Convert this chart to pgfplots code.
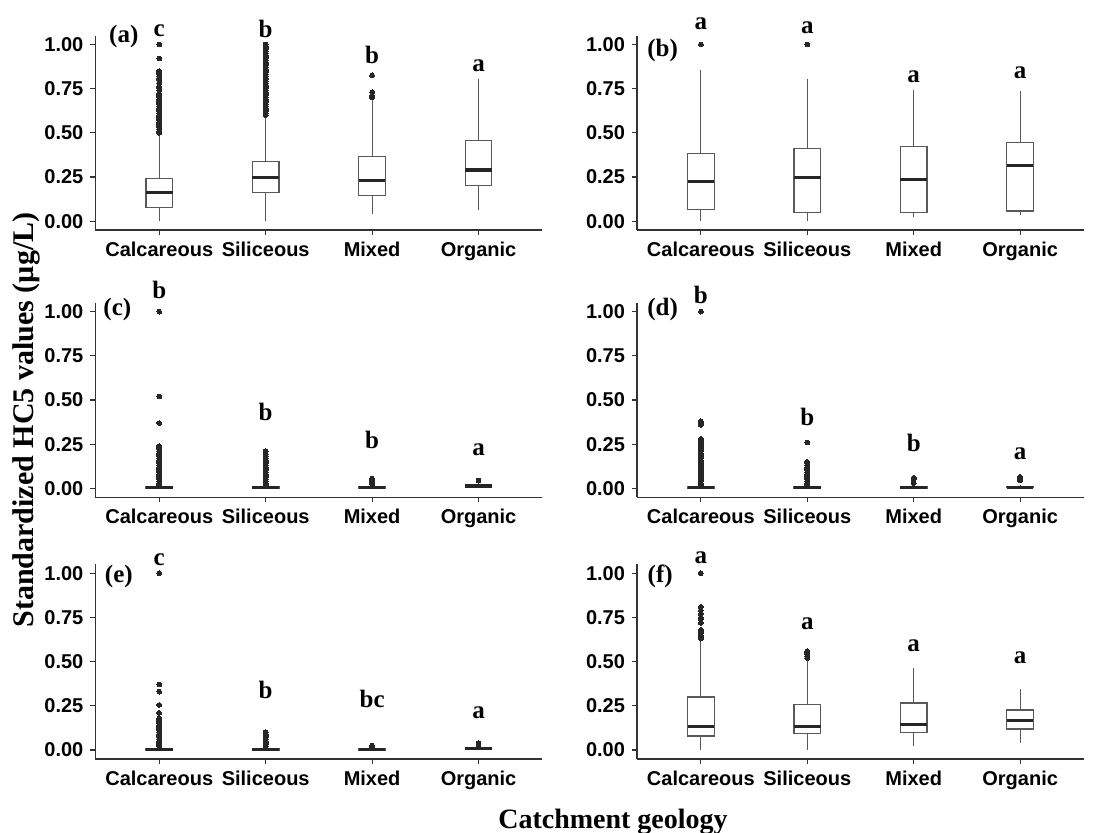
\documentclass[border=0pt]{standalone}
\usepackage{fontspec}
\setmainfont{Liberation Serif}
\newfontfamily\sansf{Liberation Sans}
\usepackage{pgfplots}
\pgfplotsset{compat=1.18}
\usepgfplotslibrary{statistics}

\newcommand{\tickfont}{\fontsize{10}{12}\selectfont\sansf\bfseries}
\newcommand{\letfont}{\fontsize{12.5}{14}\selectfont\bfseries}

\pgfplotsset{
  panel/.style={
    scale only axis, width=223.5pt, height=97.2pt,
    anchor=south west,
    xmin=0.4, xmax=4.6, ymin=-0.05, ymax=1.05,
    axis lines=left,
    axis line style={-, draw=black!80, line width=0.7pt},
    xtick={1,2,3,4},
    xticklabels={Calcareous,Siliceous,Mixed,Organic},
    ytick={0,0.25,0.5,0.75,1},
    yticklabel style={/pgf/number format/.cd, fixed, fixed zerofill, precision=2, assume math mode=true},
    ticklabel style={font=\tickfont, text=black},
    tick align=outside,
    major tick length=2.5pt,
    tick style={draw=black!80, line width=0.6pt},
    clip=false,
    boxplot/draw direction=y,
  },
  bxstyle/.style={draw=black!65, line width=0.6pt, fill=white, mark=*, mark size=1.2pt,
    mark options={fill=black!85, draw=black!85, line width=0pt}},
}

% draw position, lw, q1, median, q3, uw, outlier table
\newcommand{\bx}[7]{%
  \addplot[bxstyle, boxplot prepared={draw position=#1, lower whisker=#2, lower quartile=#3,
    median=#4, upper quartile=#5, upper whisker=#6, box extend=0.25, whisker extend=0,
    every median/.style={draw=black!85, line width=1.6pt}}]
    table[row sep=\\, y index=0] {#7};}
\newcommand{\bxn}[6]{%
  \addplot[bxstyle, boxplot prepared={draw position=#1, lower whisker=#2, lower quartile=#3,
    median=#4, upper quartile=#5, upper whisker=#6, box extend=0.25, whisker extend=0,
    every median/.style={draw=black!85, line width=1.6pt}}]
    coordinates {};}
\newcommand{\lt}[3]{\node[font=\letfont] at (axis cs:#1,#2) {#3};}

\begin{document}
\begin{tikzpicture}
\useasboundingbox (0,0) rectangle (554pt,416pt);

% (a)
\begin{axis}[panel, at={(47.7pt,301pt)}]
\bx{1}{0}{0.077}{0.16}{0.241}{0.495}{v\\0.50\\0.51\\0.52\\0.53\\0.54\\0.55\\0.56\\0.57\\0.58\\0.59\\0.60\\0.61\\0.62\\0.63\\0.64\\0.65\\0.66\\0.67\\0.68\\0.69\\0.70\\0.71\\0.72\\0.74\\0.75\\0.76\\0.78\\0.80\\0.81\\0.82\\0.83\\0.84\\0.85\\0.92\\1.00\\}
\bx{2}{0}{0.16}{0.247}{0.337}{0.59}{v\\0.60\\0.61\\0.62\\0.63\\0.64\\0.65\\0.66\\0.67\\0.68\\0.69\\0.70\\0.71\\0.72\\0.73\\0.74\\0.75\\0.76\\0.77\\0.78\\0.79\\0.80\\0.81\\0.82\\0.83\\0.84\\0.85\\0.86\\0.87\\0.88\\0.89\\0.90\\0.91\\0.92\\0.93\\0.94\\0.95\\0.96\\0.97\\0.98\\0.99\\1.00\\}
\bx{3}{0.043}{0.145}{0.232}{0.365}{0.684}{v\\0.70\\0.71\\0.73\\0.825\\}
\bxn{4}{0.062}{0.203}{0.29}{0.456}{0.806}
\lt{0.667}{1.043}{(a)}
\lt{1}{1.08}{c}
\lt{2}{1.09}{b}
\lt{3}{0.94}{b}
\lt{4}{0.88}{a}
\end{axis}

% (b)
\begin{axis}[panel, at={(318.5pt,301pt)}]
\bx{1}{0}{0.066}{0.224}{0.382}{0.853}{v\\1.00\\}
\bx{2}{0}{0.047}{0.247}{0.41}{0.806}{v\\1.00\\}
\bxn{3}{0.024}{0.047}{0.237}{0.424}{0.74}
\bxn{4}{0.034}{0.058}{0.313}{0.444}{0.734}
\lt{0.641}{0.966}{(b)}
\lt{1}{1.117}{a}
\lt{2}{1.094}{a}
\lt{3}{0.815}{a}
\lt{4}{0.838}{a}
\end{axis}

% (c)
\begin{axis}[panel, at={(47.7pt,167.4pt)}]
\bx{1}{0}{0}{0.004}{0.01}{0.018}{v\\0.02\\0.03\\0.04\\0.05\\0.06\\0.07\\0.08\\0.09\\0.10\\0.11\\0.12\\0.13\\0.14\\0.15\\0.16\\0.17\\0.18\\0.19\\0.20\\0.21\\0.22\\0.23\\0.24\\0.37\\0.52\\1.00\\}
\bx{2}{0}{0}{0.004}{0.01}{0.018}{v\\0.02\\0.03\\0.04\\0.05\\0.06\\0.07\\0.08\\0.09\\0.10\\0.11\\0.12\\0.13\\0.14\\0.15\\0.16\\0.17\\0.18\\0.19\\0.21\\}
\bx{3}{0}{0.002}{0.006}{0.012}{0.02}{v\\0.025\\0.03\\0.035\\0.04\\0.045\\0.05\\0.055\\}
\bx{4}{0.005}{0.008}{0.013}{0.02}{0.03}{v\\0.045\\}
\lt{0.606}{1.015}{(c)}
\lt{1}{1.12}{b}
\lt{2}{0.434}{b}
\lt{3}{0.274}{b}
\lt{4}{0.217}{a}
\end{axis}

% (d)
\begin{axis}[panel, at={(318.5pt,167.4pt)}]
\bx{1}{0}{0}{0.004}{0.01}{0.018}{v\\0.02\\0.03\\0.04\\0.05\\0.06\\0.07\\0.08\\0.09\\0.10\\0.11\\0.12\\0.13\\0.14\\0.15\\0.16\\0.17\\0.18\\0.19\\0.20\\0.21\\0.22\\0.23\\0.24\\0.25\\0.26\\0.27\\0.28\\0.36\\0.37\\0.38\\1.00\\}
\bx{2}{0}{0}{0.004}{0.01}{0.018}{v\\0.02\\0.03\\0.04\\0.05\\0.06\\0.07\\0.08\\0.09\\0.10\\0.11\\0.12\\0.13\\0.14\\0.15\\0.26\\}
\bx{3}{0}{0.002}{0.006}{0.012}{0.02}{v\\0.03\\0.05\\0.06\\}
\bx{4}{0}{0.003}{0.007}{0.012}{0.02}{v\\0.045\\0.05\\0.055\\0.06\\0.065\\}
\lt{0.641}{1.015}{(d)}
\lt{1}{1.094}{b}
\lt{2}{0.406}{b}
\lt{3}{0.255}{b}
\lt{4}{0.198}{a}
\end{axis}

% (e)
\begin{axis}[panel, at={(47.7pt,36.6pt)}]
\bx{1}{0}{0}{0.003}{0.008}{0.015}{v\\0.02\\0.03\\0.04\\0.05\\0.06\\0.07\\0.08\\0.09\\0.10\\0.11\\0.12\\0.13\\0.14\\0.15\\0.16\\0.17\\0.18\\0.21\\0.255\\0.33\\0.37\\1.00\\}
\bx{2}{0}{0}{0.003}{0.008}{0.015}{v\\0.02\\0.03\\0.04\\0.05\\0.06\\0.07\\0.08\\0.09\\0.10\\}
\bx{3}{0}{0}{0.003}{0.008}{0.012}{v\\0.02\\0.025\\}
\bx{4}{0}{0.003}{0.008}{0.013}{0.02}{v\\0.03\\0.038\\}
\lt{0.62}{0.98}{(e)}
\lt{1}{1.075}{c}
\lt{2}{0.34}{b}
\lt{3}{0.287}{bc}
\lt{4}{0.208}{a}
\end{axis}

% (f)
\begin{axis}[panel, at={(318.5pt,36.6pt)}]
\bx{1}{0}{0.079}{0.132}{0.30}{0.62}{v\\0.63\\0.64\\0.65\\0.66\\0.67\\0.68\\0.72\\0.74\\0.75\\0.77\\0.79\\0.81\\1.00\\}
\bx{2}{0}{0.092}{0.132}{0.258}{0.51}{v\\0.52\\0.53\\0.54\\0.55\\0.56\\}
\bxn{3}{0.023}{0.098}{0.142}{0.266}{0.466}
\bxn{4}{0.038}{0.119}{0.168}{0.226}{0.345}
\lt{0.618}{0.98}{(f)}
\lt{1}{1.085}{a}
\lt{2}{0.717}{a}
\lt{3}{0.589}{a}
\lt{4}{0.519}{a}
\end{axis}

\node[rotate=90, font=\fontsize{15}{18}\selectfont\bfseries] at (13pt,206pt) {Standardized HC5 values (µg/L)};
\node[anchor=base, font=\fontsize{14}{17}\selectfont\bfseries] at (306.5pt,2pt) {Catchment geology};
\end{tikzpicture}
\end{document}
